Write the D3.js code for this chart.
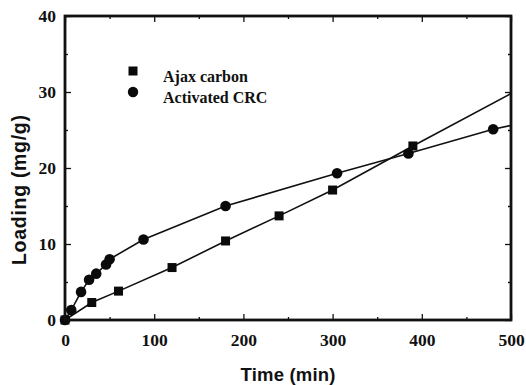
<!DOCTYPE html>
<html>
<head>
<meta charset="utf-8">
<script src="https://cdn.jsdelivr.net/npm/d3@7"></script>
<style>
  body { margin: 0; background: #fff; }
  svg { display: block; }
</style>
</head>
<body>
<script>
// Ajax carbon (squares)
var ajaxTime = [0, 30, 60, 120, 180, 240, 300, 390];
var ajaxLoad = [0, 2.3, 3.8, 6.9, 10.4, 13.7, 17.1, 22.9];
var ajaxLineEnd = [500, 29.8];

// Activated CRC (circles)
var crcTime = [0, 7, 18, 27, 35, 46, 50, 88, 180, 305, 385, 480];
var crcLoad = [0, 1.3, 3.7, 5.3, 6.1, 7.3, 8.0, 10.6, 15.0, 19.3, 21.9, 25.1];
var crcLineEnd = [500, 25.6];

var xTicks = [0, 100, 200, 300, 400, 500];
var yTicks = [0, 10, 20, 30, 40];
var legendNames = ["Ajax carbon", "Activated CRC"];

var W = 526, H = 385;
var margin = {top: 16, left: 65, right: 15, bottom: 65};
var width = W - margin.left - margin.right,
    height = H - margin.top - margin.bottom;

var svg = d3.select("body").append("svg")
    .attr("width", W)
    .attr("height", H);

var chart = svg.append("g")
    .attr("transform", "translate(" + margin.left + "," + margin.top + ")");

var x = d3.scaleLinear().domain([0, 500]).range([0, width]);
var y = d3.scaleLinear().domain([0, 40]).range([height, 0]);

svg.append("defs").append("clipPath")
    .attr("id", "clip")
    .append("rect")
    .attr("width", width)
    .attr("height", height);

var ajax = ajaxTime.map(function (t, i) { return [t, ajaxLoad[i]]; });
var crc = crcTime.map(function (t, i) { return [t, crcLoad[i]]; });

var line = d3.line()
    .x(function (d) { return x(d[0]); })
    .y(function (d) { return y(d[1]); });

var plot = chart.append("g").attr("clip-path", "url(#clip)");

plot.append("path")
    .datum(ajax.concat([ajaxLineEnd]))
    .attr("d", line)
    .attr("fill", "none")
    .attr("stroke", "#111")
    .attr("stroke-width", 1.6);

plot.append("path")
    .datum(crc.concat([crcLineEnd]))
    .attr("d", line)
    .attr("fill", "none")
    .attr("stroke", "#111")
    .attr("stroke-width", 1.6);

// markers
var sq = 9;
chart.selectAll(".sq")
    .data(ajax)
    .enter()
    .append("rect")
    .attr("x", function (d) { return x(d[0]) - sq / 2; })
    .attr("y", function (d) { return y(d[1]) - sq / 2; })
    .attr("width", sq)
    .attr("height", sq)
    .attr("fill", "#0a0a0a");

chart.selectAll(".dot")
    .data(crc)
    .enter()
    .append("circle")
    .attr("cx", function (d) { return x(d[0]); })
    .attr("cy", function (d) { return y(d[1]); })
    .attr("r", 5.3)
    .attr("fill", "#0a0a0a");

// axes: ticks inward on all four sides, minor ticks in between
var xMinor = d3.range(50, 500, 100);
var yMinor = d3.range(5, 40, 10);

function styleAxis(g) {
    g.select(".domain").remove();
    g.selectAll(".tick line").attr("stroke", "#111").attr("stroke-width", 1.3);
}

chart.append("g")
    .attr("transform", "translate(0," + height + ")")
    .call(d3.axisBottom(x).tickValues(xTicks).tickSize(-6).tickPadding(14).tickFormat(d3.format("d")))
    .call(styleAxis)
    .selectAll("text")
    .attr("font-family", "'Liberation Serif', serif")
    .attr("font-weight", "bold")
    .attr("font-size", 17.5)
    .attr("fill", "#111");

chart.append("g")
    .attr("transform", "translate(0," + height + ")")
    .call(d3.axisBottom(x).tickValues(xMinor).tickSize(-3).tickFormat(""))
    .call(styleAxis);

chart.append("g")
    .call(d3.axisTop(x).tickValues(xTicks).tickSize(-6).tickFormat(""))
    .call(styleAxis);
chart.append("g")
    .call(d3.axisTop(x).tickValues(xMinor).tickSize(-3).tickFormat(""))
    .call(styleAxis);

chart.append("g")
    .call(d3.axisLeft(y).tickValues(yTicks).tickSize(-6).tickPadding(9).tickFormat(d3.format("d")))
    .call(styleAxis)
    .selectAll("text")
    .attr("font-family", "'Liberation Serif', serif")
    .attr("font-weight", "bold")
    .attr("font-size", 17.5)
    .attr("fill", "#111");

chart.append("g")
    .call(d3.axisLeft(y).tickValues(yMinor).tickSize(-3).tickFormat(""))
    .call(styleAxis);

chart.append("g")
    .attr("transform", "translate(" + width + ",0)")
    .call(d3.axisRight(y).tickValues(yTicks).tickSize(-6).tickFormat(""))
    .call(styleAxis);
chart.append("g")
    .attr("transform", "translate(" + width + ",0)")
    .call(d3.axisRight(y).tickValues(yMinor).tickSize(-3).tickFormat(""))
    .call(styleAxis);

// frame
chart.append("rect")
    .attr("width", width)
    .attr("height", height)
    .attr("fill", "none")
    .attr("stroke", "#111")
    .attr("stroke-width", 2.8);

// axis titles
svg.append("text")
    .attr("x", margin.left + x(250))
    .attr("y", 381)
    .attr("text-anchor", "middle")
    .attr("font-family", "'Liberation Sans', Arial, sans-serif")
    .attr("font-weight", "bold")
    .attr("font-size", 18.5)
    .attr("textLength", 95)
    .attr("fill", "#111")
    .text("Time (min)");

svg.append("text")
    .attr("transform", "translate(26," + 190 + ") rotate(-90)")
    .attr("text-anchor", "middle")
    .attr("font-family", "'Liberation Sans', Arial, sans-serif")
    .attr("font-weight", "bold")
    .attr("font-size", 19.5)
    .attr("textLength", 150)
    .attr("fill", "#111")
    .text("Loading (mg/g)");

// legend
var legend = svg.append("g").attr("transform", "translate(133,71)");
legend.append("rect")
    .attr("x", -4.5).attr("y", -4.5)
    .attr("width", 9).attr("height", 9)
    .attr("fill", "#0a0a0a");
legend.append("circle")
    .attr("cx", 0).attr("cy", 21)
    .attr("r", 5.2)
    .attr("fill", "#0a0a0a");
legend.selectAll(".lt")
    .data(legendNames)
    .enter()
    .append("text")
    .attr("x", 30)
    .attr("y", function (d, i) { return 10.5 + i * 21; })
    .attr("font-family", "'Liberation Serif', serif")
    .attr("font-weight", "bold")
    .attr("font-size", 16)
    .attr("fill", "#111")
    .text(function (d) { return d; });
</script>
</body>
</html>
